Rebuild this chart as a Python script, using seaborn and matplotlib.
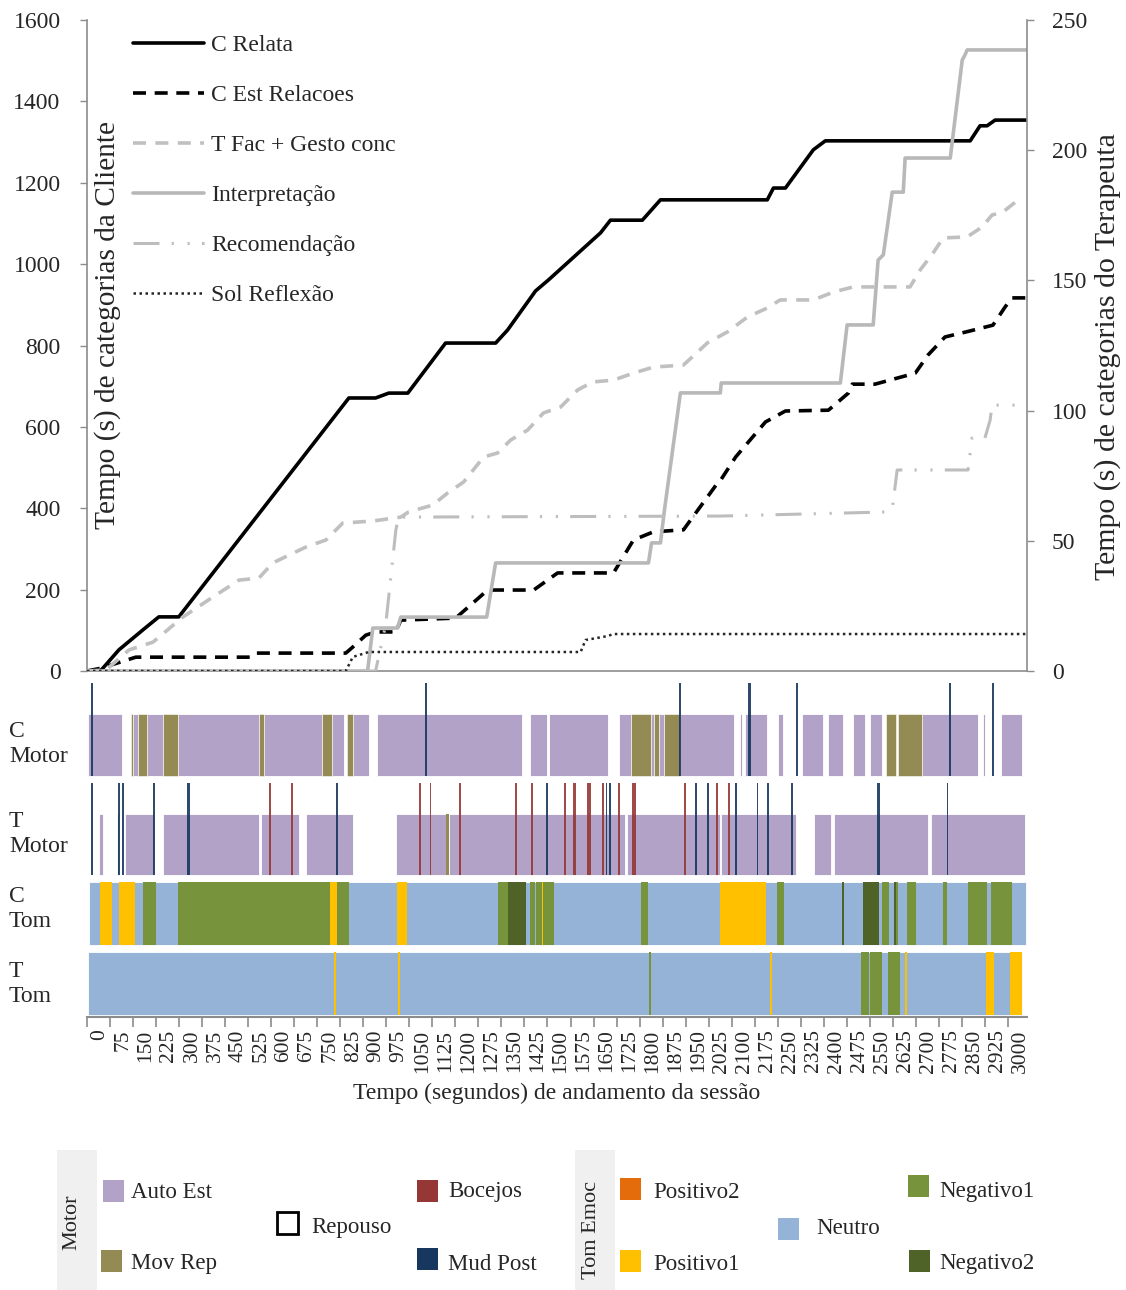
import numpy as np
import pandas as pd
import matplotlib
matplotlib.use("Agg")
import matplotlib.pyplot as plt
import seaborn as sns
from matplotlib.patches import Rectangle

# ---------------- data: cumulative curves (time s, cumulative s) ----------------
c_relata_t = [0, 46, 104, 182, 234, 299, 853, 940, 983, 1045, 1168, 1331, 1370, 1461, 1503, 1673, 1705, 1809, 1868, 2216, 2236, 2275, 2366, 2405, 2877, 2909, 2932, 2958, 3060]
c_relata_v = [0, 2, 52, 101, 133, 133, 671, 671, 683, 683, 806, 806, 838, 934, 961, 1077, 1108, 1108, 1158, 1158, 1187, 1187, 1281, 1303, 1303, 1340, 1340, 1354, 1354]

c_est_t = [0, 46, 159, 534, 550, 843, 866, 908, 940, 1006, 1022, 1201, 1305, 1455, 1533, 1715, 1780, 1845, 1943, 2054, 2064, 2113, 2210, 2275, 2415, 2480, 2493, 2567, 2698, 2740, 2795, 2867, 2951, 2991, 3013, 3060]
c_est_v = [0, 7, 34, 34, 44, 44, 59, 88, 96, 96, 125, 130, 199, 199, 241, 241, 322, 342, 347, 462, 469, 526, 612, 639, 641, 683, 705, 705, 732, 777, 821, 834, 850, 895, 917, 917]

t_fac_t = [0, 62, 137, 215, 312, 410, 495, 560, 605, 713, 778, 833, 931, 1022, 1048, 1126, 1175, 1227, 1292, 1337, 1380, 1435, 1487, 1543, 1598, 1647, 1715, 1780, 1845, 1943, 2021, 2086, 2151, 2216, 2258, 2366, 2431, 2496, 2681, 2714, 2756, 2789, 2867, 2916, 2948, 2984, 3033]
t_fac_v = [0, 0.4, 8.1, 11.1, 20.7, 28.4, 34.9, 35.7, 41.5, 47.6, 50.3, 56.8, 57.6, 59.1, 61.1, 63.7, 68.4, 72.6, 82.2, 83.7, 88.7, 92.5, 99.1, 101.4, 107.9, 111.0, 111.7, 114.4, 116.7, 117.5, 126.0, 130.2, 135.9, 139.4, 142.5, 142.5, 145.5, 147.5, 147.5, 154.0, 160.5, 166.3, 166.7, 170.5, 175.1, 176.3, 180.9]

interp_t = [0, 914, 931, 1012, 1022, 1302, 1331, 1829, 1839, 1868, 1881, 1933, 2063, 2066, 2454, 2476, 2561, 2577, 2594, 2623, 2659, 2665, 2812, 2851, 2860, 2867, 3060]
interp_v = [0, 0, 16.5, 16.5, 20.7, 20.7, 41.5, 41.5, 49.2, 49.2, 61.8, 106.8, 106.8, 110.6, 110.6, 132.9, 132.9, 157.8, 159.8, 183.9, 183.9, 197.0, 197.0, 234.6, 236.6, 238.5, 238.5]

recom_t = [0, 940, 973, 1006, 1015, 2063, 2616, 2623, 2639, 2870, 2883, 2925, 2942, 2948, 3033]
recom_v = [0, 0, 17.7, 54.1, 59.1, 59.5, 61.1, 62.0, 77.2, 77.2, 89.5, 89.5, 96.4, 102.1, 102.1]

sol_t = [0, 843, 866, 918, 1608, 1624, 1695, 1715, 3060]
sol_v = [0, 0, 5.4, 7.3, 7.3, 11.9, 13.4, 14.2, 14.2]

line_labels = ["C Relata", "C Est Relacoes", "T Fac + Gesto conc", "Interpretação", "Recomendação", "Sol Reflexão"]

# ---------------- data: timelines (start, end) in seconds ----------------
cm_auto = [(2, 114), (151, 167), (194, 246), (297, 559), (577, 764), (797, 838), (866, 917), (946, 1418), (1442, 1497), (1504, 1698), (1732, 1771), (1838, 1846), (1862, 1880), (1933, 2106), (2128, 2135), (2144, 2215), (2250, 2266), (2329, 2397), (2413, 2464), (2494, 2533), (2550, 2591), (2721, 2904), (2920, 2926), (2978, 3047)]
cm_movrep = [(143, 151), (167, 194), (246, 297), (559, 577), (764, 797), (848, 866), (1771, 1838), (1846, 1862), (1880, 1933), (2602, 2636), (2641, 2721)]
cm_mud_t = [15, 1103, 1933, 2159, 2314, 2810, 2951]
cm_mud_d = [7, 7, 7, 11, 6, 7, 7]

tm_auto = [(40, 52), (98, 104), (124, 219), (246, 559), (566, 691), (713, 866), (1008, 1168), (1179, 1754), (1759, 2061), (2066, 2310), (2369, 2424), (2432, 2738), (2749, 3056)]
tm_movrep = [(1168, 1179)]
tm_mud_t = [15, 105, 116, 219, 330, 813, 1499, 1692, 1705, 1983, 2023, 2115, 2184, 2217, 2296, 2578, 2803]
tm_mud_d = [6, 6, 6, 6, 11, 6, 6, 6, 6, 6, 6, 6, 6, 6, 6, 11, 6]
tm_boc_t = [595, 669, 1085, 1119, 1214, 1398, 1449, 1556, 1588, 1635, 1681, 1733, 1782, 1949, 2052, 2092]
tm_boc_d = [6, 6, 6, 6, 6, 6, 6, 6, 11, 11, 6, 6, 11, 6, 6, 6]

ct_neutro = [(7, 3058)]
ct_pos1 = [(42, 81), (104, 155), (792, 815), (1009, 1043), (1481, 1486), (2061, 2211)]
ct_neg1 = [(183, 224), (297, 792), (815, 855), (1340, 1372), (1442, 1458), (1464, 1481), (1486, 1521), (1805, 1828), (2249, 2272), (2590, 2613), (2636, 2641), (2670, 2700), (2790, 2803), (2870, 2933), (2944, 3012)]
ct_neg2 = [(1372, 1430), (2459, 2465), (2528, 2579), (2629, 2636)]

tt_neutro = [(2, 3047)]
tt_pos1 = [(804, 810), (1013, 1019), (2225, 2231), (2664, 2670), (2927, 2955), (3005, 3047)]
tt_neg1 = [(1832, 1838), (2522, 2546), (2551, 2591), (2609, 2649)]

track_labels = ["C\nMotor", "T\nMotor", "C\nTom", "T\nTom"]
xtick_vals = list(range(0, 3001, 75))

motor_labels = ["Auto Est", "Mov Rep", "Repouso", "Bocejos", "Mud Post"]
tom_labels = ["Positivo2", "Positivo1", "Neutro", "Negativo1", "Negativo2"]
col = {"Auto Est": "#B3A2C7", "Mov Rep": "#948A54", "Repouso": "#FFFFFF",
       "Bocejos": "#953735", "Mud Post": "#17375E",
       "Positivo2": "#E46C0A", "Positivo1": "#FFC000", "Neutro": "#95B3D7",
       "Negativo1": "#77933C", "Negativo2": "#4F6228"}

# ---------------- style ----------------
sns.set_theme(style="white")
plt.rcParams["font.family"] = ["Liberation Serif", "DejaVu Serif"]
GRAY = "#8C8C8C"
W, H = 1126, 1290

fig = plt.figure(figsize=(W / 100, H / 100), dpi=100)

def fx(px):
    return px / W

def fy(py):
    return 1 - py / H

# ---------------- top chart ----------------
ax = fig.add_axes([fx(87), fy(671), fx(1027) - fx(87), fy(20) - fy(671)])
ax2 = ax.twinx()
XMAX = 3062

styles = [
    (ax, c_relata_t, c_relata_v, dict(color="black", linewidth=2.6, linestyle="-")),
    (ax, c_est_t, c_est_v, dict(color="black", linewidth=2.6, linestyle=(0, (3.6, 2.4)))),
    (ax2, t_fac_t, t_fac_v, dict(color="#C0C0C0", linewidth=2.6, linestyle=(0, (3.6, 2.6)))),
    (ax2, interp_t, interp_v, dict(color="#B8B8B8", linewidth=2.6, linestyle="-")),
    (ax2, recom_t, recom_v, dict(color="#BDBDBD", linewidth=2.2, linestyle=(0, (8.5, 4, 0.7, 4.5, 0.7, 4)))),
    (ax2, sol_t, sol_v, dict(color="#262626", linewidth=1.8, linestyle=(0, (1, 1.4)))),
]
handles = []
for (a, t, v, kw), lab in zip(styles, line_labels):
    sns.lineplot(x=t, y=v, ax=a, sort=False, estimator=None, legend=False, **kw)
    ln = a.lines[-1]
    ln.set_label(lab)
    handles.append(ln)

ax.set_xlim(0, XMAX)
ax.set_ylim(0, 1600)
ax2.set_ylim(0, 250)
ax.set_xticks([])
ax.set_yticks(range(0, 1601, 200))
ax2.set_yticks(range(0, 251, 50))
ax.set_xlabel("")
ax.set_ylabel("")
ax2.set_ylabel("")
ax.tick_params(axis="y", direction="out", length=5, width=1, color=GRAY, pad=14, labelsize=17, left=True)
ax2.tick_params(axis="y", direction="out", length=5, width=1, color=GRAY, pad=13, labelsize=17, right=True)
for a in (ax, ax2):
    for s in a.spines.values():
        s.set_color(GRAY)
        s.set_linewidth(1.2)
    a.spines["top"].set_visible(False)
    a.grid(False)
ax2.spines["left"].set_visible(False)
ax2.spines["bottom"].set_visible(False)
ax.spines["right"].set_visible(False)

leg = ax2.legend(handles=handles, labels=line_labels, loc="upper left",
                 bbox_to_anchor=(0.049, 0.978), frameon=False, fontsize=17,
                 handlelength=3.0, handletextpad=0.3, labelspacing=1.21,
                 borderpad=0, borderaxespad=0)

# ---------------- timeline tracks ----------------
tax = fig.add_axes([fx(87), fy(1017), fx(1027) - fx(87), fy(680) - fy(1017)])
tax.set_xlim(0, XMAX)
tax.set_ylim(1017, 680)

def draw_segs(segs, top, bot, color, ec="none", lw=0):
    for s, e in segs:
        tax.barh(y=(top + bot) / 2, width=e - s, left=s, height=bot - top,
                 color=color, edgecolor=ec, linewidth=lw)

def draw_events(ts, ds, top, bot, color):
    for t, d in zip(ts, ds):
        tax.barh(y=(top + bot) / 2, width=d, left=t - d / 2, height=bot - top,
                 color=color, edgecolor="none", linewidth=0, alpha=0.9)

# C Motor
draw_segs(cm_auto, 714, 776, col["Auto Est"], ec="white", lw=0.6)
draw_segs(cm_movrep, 714, 776, col["Mov Rep"], ec="white", lw=0.4)
draw_events(cm_mud_t, cm_mud_d, 683, 776, col["Mud Post"])
# T Motor
draw_segs(tm_auto, 814, 875, col["Auto Est"], ec="white", lw=0.6)
draw_segs(tm_movrep, 814, 875, col["Mov Rep"])
draw_events(tm_boc_t, tm_boc_d, 783, 875, col["Bocejos"])
draw_events(tm_mud_t, tm_mud_d, 783, 875, col["Mud Post"])
# C Tom
draw_segs(ct_neutro, 882, 945, col["Neutro"], ec="white", lw=0.6)
draw_segs(ct_pos1, 882, 945, col["Positivo1"])
draw_segs(ct_neg1, 882, 945, col["Negativo1"])
draw_segs(ct_neg2, 882, 945, col["Negativo2"])
# T Tom
draw_segs(tt_neutro, 952, 1015, col["Neutro"], ec="white", lw=0.6)
draw_segs(tt_pos1, 952, 1015, col["Positivo1"])
draw_segs(tt_neg1, 952, 1015, col["Negativo1"])

tax.set_yticks([])
tax.set_xticks(xtick_vals, minor=True)
tax.set_xticks([v + 42 for v in xtick_vals])
tax.set_xticklabels([str(v) for v in xtick_vals])
tax.tick_params(axis="x", which="major", length=0, pad=9, labelsize=15.5, labelrotation=90)
tax.tick_params(axis="x", which="minor", direction="out", length=7, width=1.2, color=GRAY, bottom=True)
tax.set_xlabel("Tempo (segundos) de andamento da sessão", fontsize=17, labelpad=7)
for k, s in tax.spines.items():
    s.set_visible(k == "bottom")
tax.spines["bottom"].set_color(GRAY)
tax.spines["bottom"].set_linewidth(1.5)
tax.grid(False)
tax.set_facecolor("none")

# ---------------- overlay (pixel coordinates) for free text and legend ----------------
ov = fig.add_axes([0, 0, 1, 1], facecolor="none")
ov.set_xlim(0, W)
ov.set_ylim(H, 0)
ov.axis("off")

ov.text(108, 325, "Tempo (s) de categorias da Cliente", rotation=90, ha="center", va="center", fontsize=21.2)
ov.text(1108, 357, "Tempo (s) de categorias do Terapeuta", rotation=90, ha="center", va="center", fontsize=21.5)

for lab, yc in zip(track_labels, [744, 834, 909, 984]):
    ov.text(9, yc, lab, ha="left", va="center", fontsize=17, linespacing=1.2)

# legend strips
ov.add_patch(Rectangle((57, 1150), 40, 140, facecolor="#F0F0F0", edgecolor="none"))
ov.add_patch(Rectangle((575, 1150), 40, 140, facecolor="#F0F0F0", edgecolor="none"))
ov.text(72, 1222, "Motor", rotation=90, ha="center", va="center", fontsize=16)
ov.text(591, 1230, "Tom Emoc", rotation=90, ha="center", va="center", fontsize=16)

motor_pos = [(103, 1180), (101, 1250), (277, 1212), (417, 1180), (417, 1248)]
tom_pos = [(620, 1178), (620, 1250), (778, 1218), (908, 1175), (909, 1250)]
text_pos_motor = [(131, 1192), (131, 1264), (311, 1228), (448, 1192), (448, 1264)]
text_pos_tom = [(653, 1192), (653, 1264), (816, 1228), (939, 1192), (939, 1264)]

for lab, (x, y), (tx, ty) in zip(motor_labels + tom_labels, motor_pos + tom_pos, text_pos_motor + text_pos_tom):
    if lab == "Repouso":
        ov.add_patch(Rectangle((x, y), 21, 22, facecolor="white", edgecolor="black", linewidth=2))
    else:
        ov.add_patch(Rectangle((x, y), 21, 22, facecolor=col[lab], edgecolor="none"))
    ov.text(tx, ty, lab, ha="left", va="center", fontsize=16.5)

fig.savefig("out.png", dpi=100)
